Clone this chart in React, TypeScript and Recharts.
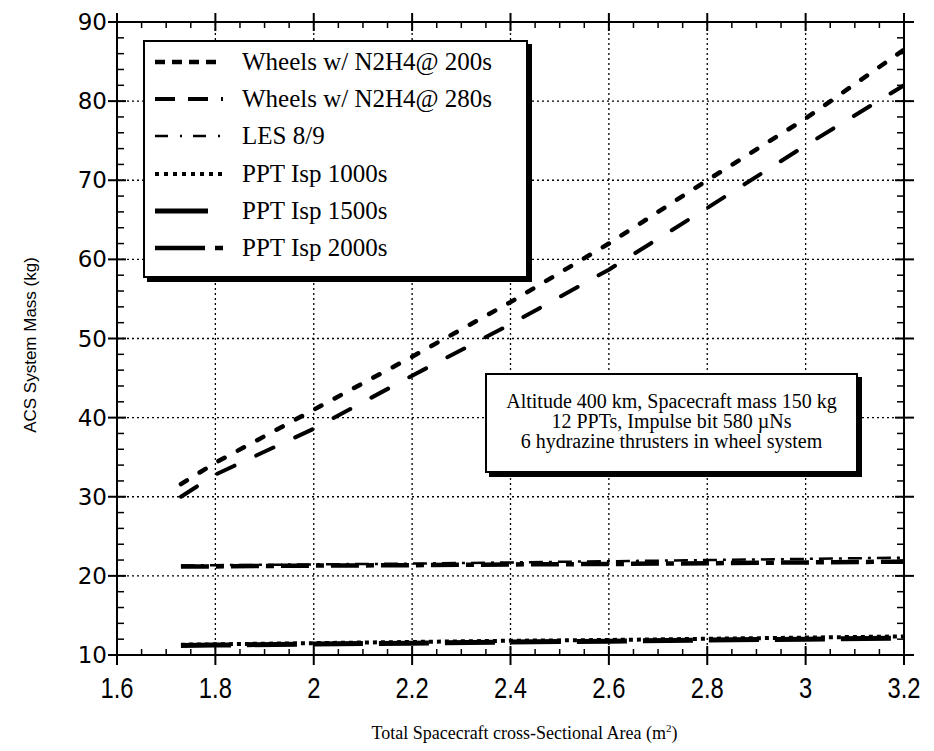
import React from 'react';
import { LineChart, Line, XAxis, YAxis, ReferenceLine } from 'recharts';

// ---- data ----
const areas = [1.73, 1.8, 2.0, 2.2, 2.4, 2.6, 2.8, 3.0, 3.2];
const wheels200 = [31.6, 34.3, 41.0, 47.7, 54.6, 62.0, 70.0, 77.8, 86.5];
const wheels280 = [30.0, 32.8, 38.6, 45.3, 51.8, 58.7, 66.5, 74.4, 82.0];
const les89 = [21.3, 21.35, 21.45, 21.55, 21.7, 21.85, 22.0, 22.15, 22.3];
const ppt1000 = [11.3, 11.35, 11.5, 11.65, 11.8, 11.9, 12.05, 12.2, 12.35];
const ppt1500 = [11.2, 11.25, 11.4, 11.5, 11.65, 11.75, 11.9, 12.0, 12.15];
const ppt2000 = [21.2, 21.2, 21.3, 21.35, 21.45, 21.5, 21.6, 21.7, 21.8];

const seriesNames = [
  'Wheels w/ N2H4@ 200s',
  'Wheels w/ N2H4@ 280s',
  'LES 8/9',
  'PPT Isp 1000s',
  'PPT Isp 1500s',
  'PPT Isp 2000s',
];

const xMajorTicks = [1.6, 1.8, 2, 2.2, 2.4, 2.6, 2.8, 3, 3.2];
const xMinorTicks = [
  1.65, 1.7, 1.75, 1.85, 1.9, 1.95, 2.05, 2.1, 2.15, 2.25, 2.3, 2.35,
  2.45, 2.5, 2.55, 2.65, 2.7, 2.75, 2.85, 2.9, 2.95, 3.05, 3.1, 3.15,
];
const yMajorTicks = [10, 20, 30, 40, 50, 60, 70, 80, 90];
const yMinorTicks = [
  12, 14, 16, 18, 22, 24, 26, 28, 32, 34, 36, 38, 42, 44, 46, 48,
  52, 54, 56, 58, 62, 64, 66, 68, 72, 74, 76, 78, 82, 84, 86, 88,
];
const xGridValues = [1.8, 2, 2.2, 2.4, 2.6, 2.8, 3];
const yGridValues = [20, 30, 40, 50, 60, 70, 80];

const xTitle = 'Total Spacecraft cross-Sectional Area (m';
const xTitleSup = '2';
const yTitle = 'ACS System Mass (kg)';
const annotationLines = [
  'Altitude 400 km, Spacecraft mass 150 kg',
  '12 PPTs, Impulse bit 580 \u00b5Ns',
  '6 hydrazine thrusters in wheel system',
];

// ---- table for the library ----
const keys = ['w200', 'w280', 'les', 'p1000', 'p1500', 'p2000'];
const valueLists = [wheels200, wheels280, les89, ppt1000, ppt1500, ppt2000];
const data = areas.map((a, i) => {
  const row: any = { area: a };
  keys.forEach((k, j) => {
    row[k] = valueLists[j][i];
  });
  return row;
});

const X_MIN = 1.6;
const X_MAX = 3.2;
const Y_MIN = 10;
const Y_MAX = 90;

// tick lengths, expressed in axis units (plot is ~787 x 633 px)
const PX_X = (X_MAX - X_MIN) / 787;
const PX_Y = (Y_MAX - Y_MIN) / 633;
const MINOR = 6;
const MAJOR = 9;

// ---- styles ----
const plotStyles = [
  { width: 4.5, dash: '7 15', cap: 'round' },
  { width: 4, dash: '19 24', cap: 'round' },
  { width: 2.5, dash: '14 6 3 6', cap: 'butt' },
  { width: 4, dash: '4 4', cap: 'butt' },
  { width: 5, dash: '50 16', cap: 'butt' },
  { width: 4.5, dash: '28 7 8 7', cap: 'butt' },
];
const legendStyles = [
  { width: 4.5, dash: '10 7', len: 68 },
  { width: 4, dash: '20 13', len: 68 },
  { width: 2.5, dash: '13 12 2 11', len: 68 },
  { width: 4, dash: '4 5', len: 70 },
  { width: 5, dash: undefined, len: 53 },
  { width: 4.5, dash: '50 10 10 20', len: 68 },
];
const drawOrder = [4, 3, 5, 2, 1, 0];

const BottomTick = (props: any) => {
  const { x, y, payload } = props;
  return (
    <g>
      <line x1={x} y1={y - 9} x2={x} y2={y + 10} stroke="#000" strokeWidth={2} />
      <text
        transform={`translate(${x} ${y + 43}) scale(0.82 1)`}
        x={0}
        y={0}
        textAnchor="middle"
        fontFamily="'Liberation Sans', 'Arial', sans-serif"
        fontSize={29}
        fill="#000"
      >
        {String(payload.value)}
      </text>
    </g>
  );
};

const LeftTick = (props: any) => {
  const { x, y, payload } = props;
  return (
    <g>
      <line x1={x - 9} y1={y} x2={x + 9} y2={y} stroke="#000" strokeWidth={2} />
      <text
        x={x - 10}
        y={y + 8}
        textAnchor="end"
        fontFamily="'DejaVu Sans', sans-serif"
        fontSize={23}
        fill="#000"
      >
        {String(payload.value)}
      </text>
    </g>
  );
};

const XTitle = (props: any) => {
  const { viewBox } = props;
  const cx = viewBox.x + viewBox.width / 2 + 14;
  return (
    <text
      x={cx}
      y={viewBox.y + 84}
      textAnchor="middle"
      fontFamily="'Liberation Serif', serif"
      fontSize={18}
      fill="#000"
    >
      {xTitle}
      <tspan dy={-7} fontSize={11}>
        {xTitleSup}
      </tspan>
      <tspan dy={7}>)</tspan>
    </text>
  );
};

const YTitle = (props: any) => {
  const { viewBox } = props;
  const cx = viewBox.x + 22;
  const cy = 337;
  return (
    <text
      x={cx}
      y={cy}
      transform={`rotate(-90 ${cx} ${cy})`}
      textAnchor="middle"
      dominantBaseline="central"
      fontFamily="'Liberation Sans', sans-serif"
      fontSize={17}
      fill="#000"
    >
      {yTitle}
    </text>
  );
};

const LegendBox = () => (
  <div
    style={{
      position: 'absolute',
      left: 135,
      top: 32,
      width: 381,
      height: 234,
      border: '2px solid #000',
      boxShadow: '4px 4px 0 #000',
      background: '#fff',
    }}
  >
    {seriesNames.map((name, i) => {
      const st = legendStyles[i];
      const center = 20 + i * 37.2;
      return (
        <div key={name} style={{ position: 'absolute', left: 0, top: center - 15, height: 30, width: 381 }}>
          <svg width={90} height={30} style={{ position: 'absolute', left: 10, top: 0 }}>
            <line
              x1={0}
              y1={15}
              x2={st.len}
              y2={15}
              stroke="#000"
              strokeWidth={st.width}
              strokeDasharray={st.dash}
            />
          </svg>
          <div
            style={{
              position: 'absolute',
              left: 97,
              top: 0,
              lineHeight: '30px',
              fontFamily: "'Liberation Serif', serif",
              fontSize: 25,
              color: '#000',
              whiteSpace: 'nowrap',
            }}
          >
            {name}
          </div>
        </div>
      );
    })}
  </div>
);

const AnnotationBox = () => (
  <div
    style={{
      position: 'absolute',
      left: 477,
      top: 365,
      width: 369,
      height: 96,
      border: '2px solid #000',
      boxShadow: '4px 4px 0 #000',
      background: '#fff',
    }}
  >
    <div
      style={{
        position: 'absolute',
        left: 0,
        right: 0,
        top: 16,
        textAlign: 'center',
        fontFamily: "'Liberation Serif', serif",
        fontSize: 20,
        lineHeight: '20px',
        color: '#000',
        whiteSpace: 'nowrap',
      }}
    >
      {annotationLines.map((l) => (
        <div key={l}>{l}</div>
      ))}
    </div>
  </div>
);

const seg = (x1: number, y1: number, x2: number, y2: number) => [
  { x: x1, y: y1 },
  { x: x2, y: y2 },
];

export default function App() {
  const tickLines: any[] = [];
  xMinorTicks.forEach((v) => {
    tickLines.push({ k: 'bm' + v, s: seg(v, Y_MIN, v, Y_MIN + MINOR * PX_Y), w: 1.5 });
    tickLines.push({ k: 'tm' + v, s: seg(v, Y_MAX, v, Y_MAX - MINOR * PX_Y), w: 1.5 });
  });
  xMajorTicks.forEach((v) => {
    tickLines.push({ k: 'tM' + v, s: seg(v, Y_MAX + MAJOR * PX_Y, v, Y_MAX - MAJOR * PX_Y), w: 2 });
  });
  yMinorTicks.forEach((v) => {
    tickLines.push({ k: 'lm' + v, s: seg(X_MIN, v, X_MIN + (MINOR + 1) * PX_X, v), w: 1.5 });
    tickLines.push({ k: 'rm' + v, s: seg(X_MAX - (MINOR + 1) * PX_X, v, X_MAX, v), w: 1.5 });
  });
  yMajorTicks.forEach((v) => {
    tickLines.push({ k: 'rM' + v, s: seg(X_MAX - MAJOR * PX_X, v, X_MAX + (MAJOR + 1) * PX_X, v), w: 2 });
  });

  return (
    <div style={{ position: 'relative', width: 918, height: 743, background: '#fff' }}>
      <LineChart
        width={918}
        height={743}
        data={data}
        margin={{ top: 14, right: 22, bottom: 26, left: 0 }}
      >
        <XAxis
          dataKey="area"
          type="number"
          domain={[X_MIN, X_MAX]}
          ticks={xMajorTicks}
          interval={0}
          allowDataOverflow
          height={70}
          tickSize={0}
          tickMargin={0}
          tickLine={false}
          axisLine={{ stroke: '#000', strokeWidth: 2 }}
          tick={<BottomTick />}
          label={<XTitle />}
        />
        <YAxis
          type="number"
          domain={[Y_MIN, Y_MAX]}
          ticks={yMajorTicks}
          interval={0}
          allowDataOverflow
          width={109}
          tickSize={0}
          tickMargin={0}
          tickLine={false}
          axisLine={{ stroke: '#000', strokeWidth: 2 }}
          tick={<LeftTick />}
          label={<YTitle />}
        />
        {xGridValues.map((v) => (
          <ReferenceLine key={'gx' + v} x={v} stroke="#000" strokeWidth={1.3} strokeDasharray="2 3" />
        ))}
        {yGridValues.map((v) => (
          <ReferenceLine key={'gy' + v} y={v} stroke="#000" strokeWidth={1.3} strokeDasharray="2 3" />
        ))}
        <ReferenceLine y={Y_MAX} stroke="#000" strokeWidth={2} ifOverflow="visible" />
        <ReferenceLine x={X_MAX} stroke="#000" strokeWidth={2} ifOverflow="visible" />
        {tickLines.map((t) => (
          <ReferenceLine key={t.k} segment={t.s} stroke="#000" strokeWidth={t.w} ifOverflow="visible" />
        ))}
        {drawOrder.map((i) => (
          <Line
            key={keys[i]}
            dataKey={keys[i]}
            name={seriesNames[i]}
            type="linear"
            stroke="#000"
            strokeWidth={plotStyles[i].width}
            strokeDasharray={plotStyles[i].dash}
            strokeLinecap={plotStyles[i].cap as any}
            dot={false}
            activeDot={false}
            isAnimationActive={false}
          />
        ))}
      </LineChart>
      <LegendBox />
      <AnnotationBox />
    </div>
  );
}
